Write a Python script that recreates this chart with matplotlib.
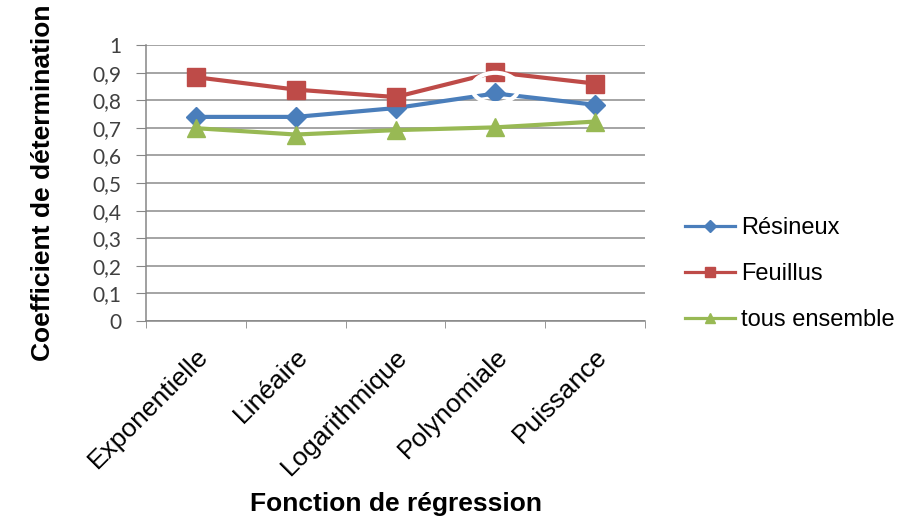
import numpy as np
import matplotlib.pyplot as plt
from matplotlib.patches import Ellipse
from matplotlib.lines import Line2D
from matplotlib.ticker import FixedLocator

plt.rcParams['font.family'] = ['Liberation Sans', 'DejaVu Sans']

fonctions = ['Exponentielle', 'Linéaire', 'Logarithmique', 'Polynomiale', 'Puissance']
resineux = [0.740, 0.740, 0.772, 0.825, 0.784]
feuillus = [0.884, 0.839, 0.812, 0.902, 0.861]
tous = [0.699, 0.676, 0.692, 0.702, 0.723]
y_ticks = [0, 0.1, 0.2, 0.3, 0.4, 0.5, 0.6, 0.7, 0.8, 0.9, 1]

series = [
    ('Résineux', resineux, '#4a7ebb', 'D', 10),
    ('Feuillus', feuillus, '#be4b48', 's', 13),
    ('tous ensemble', tous, '#98b954', '^', 13),
]

fig = plt.figure(figsize=(9.02, 5.2), dpi=100)
ax = fig.add_axes([0.162, 0.383, 0.553, 0.530])

x = np.arange(len(fonctions))
handles = []
for label, vals, color, marker, ms in series:
    ax.plot(x, vals, color=color, lw=3, marker=marker, ms=ms, zorder=3)
    handles.append(Line2D([], [], color=color, lw=2.3, marker=marker,
                          ms=ms * 0.6, label=label))

# selection ring left on the Polynomiale point
ax.add_patch(Ellipse((x[3], resineux[3] + 0.02), 0.47, 0.11, fill=False,
                     ec='white', lw=3, zorder=4))

ax.set_xlim(-0.5, len(fonctions) - 0.5)
ax.set_ylim(0, 1)
ax.set_yticks(y_ticks)
ax.set_yticklabels([f'{v:g}'.replace('.', ',') for v in y_ticks], fontsize=15,
                   family=['Lato', 'DejaVu Sans'], color='#404040')
ax.set_xticks(x)
ax.set_xticklabels(fonctions, rotation=45, ha='right', rotation_mode='anchor',
                   fontsize=19)
ax.xaxis.set_minor_locator(FixedLocator(np.arange(-0.5, len(fonctions), 1)))
ax.tick_params(axis='x', which='major', length=0, pad=17)
ax.tick_params(axis='x', which='minor', length=5, color='#868686')
ax.tick_params(axis='y', length=7, color='#868686', pad=11)

ax.grid(axis='y', color='#8c8c8c', lw=1.1)
ax.set_axisbelow(True)
for side in ['top', 'right']:
    ax.spines[side].set_visible(False)
for side in ['left', 'bottom']:
    ax.spines[side].set_color('#868686')
    ax.spines[side].set_linewidth(1.1)

ax.set_ylabel('Coefficient de détermination', fontsize=19, fontweight='bold',
              labelpad=27)
ax.set_xlabel('Fonction de régression', fontsize=19, fontweight='bold',
              labelpad=9)

fig.legend(handles=handles, loc='center left', bbox_to_anchor=(0.759, 0.473),
           frameon=False, fontsize=17, labelspacing=1.02, handlelength=2.15,
           handletextpad=0.25, borderpad=0, borderaxespad=0)

fig.savefig('out.png', dpi=100)
